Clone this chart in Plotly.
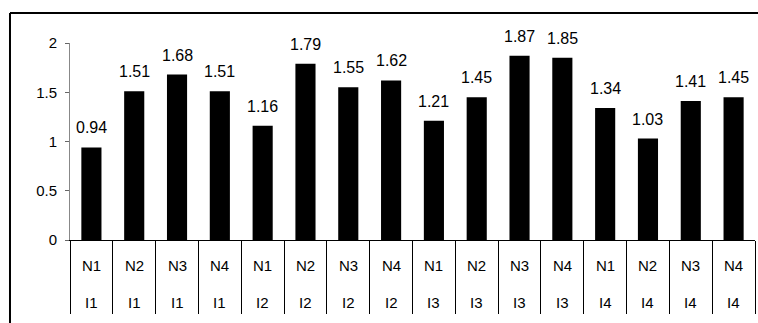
import plotly.graph_objects as go

# Treatment levels and measured values
n_levels = ["N1", "N2", "N3", "N4"]
i_levels = ["I1", "I2", "I3", "I4"]
values_i1 = [0.94, 1.51, 1.68, 1.51]
values_i2 = [1.16, 1.79, 1.55, 1.62]
values_i3 = [1.21, 1.45, 1.87, 1.85]
values_i4 = [1.34, 1.03, 1.41, 1.45]

groups = [values_i1, values_i2, values_i3, values_i4]
cats, n_lab, i_lab, vals = [], [], [], []
for i_name, grp in zip(i_levels, groups):
    for n_name, v in zip(n_levels, grp):
        cats.append(f"{n_name}-{i_name}")
        n_lab.append(n_name)
        i_lab.append(i_name)
        vals.append(v)

FONT = "Liberation Sans, Arial, sans-serif"

fig = go.Figure(
    go.Bar(
        x=cats,
        y=vals,
        width=0.47,
        marker=dict(color="black", line=dict(width=0)),
        hoverinfo="x+y",
    )
)

annotations = []
# value labels above each bar
for c, v in zip(cats, vals):
    annotations.append(dict(x=c, y=v, xref="x", yref="y", text=f"{v:.2f}",
                            showarrow=False, yanchor="bottom", yshift=9,
                            font=dict(family=FONT, size=16, color="black")))
# two rows of category labels under the axis
for c, n_name, i_name in zip(cats, n_lab, i_lab):
    annotations.append(dict(x=c, y=0, xref="x", yref="paper", text=n_name,
                            showarrow=False, yanchor="middle", yshift=-25,
                            font=dict(family=FONT, size=15, color="black")))
    annotations.append(dict(x=c, y=0, xref="x", yref="paper", text=i_name,
                            showarrow=False, yanchor="middle", yshift=-62,
                            font=dict(family=FONT, size=15, color="black")))

frame = dict(color="black", width=2)

fig.update_layout(
    width=758,
    height=323,
    margin=dict(l=70, r=3, t=43, b=83),
    paper_bgcolor="white",
    plot_bgcolor="white",
    showlegend=False,
    font=dict(family=FONT, size=15, color="black"),
    annotations=annotations,
    shapes=[
        # chart frame: top and left edges
        dict(type="line", xref="paper", yref="paper",
             x0=-0.0876, x1=1.1, y0=1.152, y1=1.152, line=frame, layer="below"),
        dict(type="line", xref="paper", yref="paper",
             x0=-0.0876, x1=-0.0876, y0=1.152, y1=-0.5, line=frame, layer="below"),
    ],
    xaxis=dict(
        type="category",
        range=[-0.5, 15.5],
        showline=True,
        linecolor="black",
        linewidth=1,
        showgrid=False,
        tickson="boundaries",
        ticks="outside",
        ticklen=73,
        tickcolor="black",
        tickwidth=1,
        showticklabels=False,
    ),
    yaxis=dict(
        range=[0, 2],
        tickvals=[0, 0.5, 1, 1.5, 2],
        ticktext=["0", "0.5", "1", "1.5", "2"],
        showline=True,
        linecolor="#888888",
        linewidth=1,
        showgrid=False,
        zeroline=False,
        ticks="outside",
        ticklen=4,
        tickcolor="#666666",
        ticklabelstandoff=5,
        tickfont=dict(family=FONT, size=15, color="black"),
    ),
)

fig.write_html("out.html")
